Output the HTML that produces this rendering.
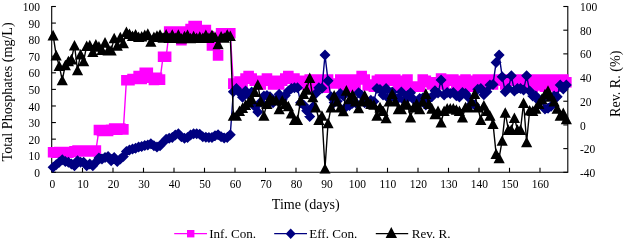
<!DOCTYPE html>
<html><head><meta charset="utf-8"><title>Chart</title>
<style>html,body{margin:0;padding:0;background:#fff;}body{width:625px;height:242px;overflow:hidden;position:relative;font-family:"Liberation Serif",serif;}</style>
</head><body>
<svg width="625" height="242" viewBox="0 0 625 242" style="position:absolute;left:0;top:0;filter:blur(0.4px)">
<g stroke="#000" stroke-width="1.1" fill="none">
<path d="M51.7,6.0 V172.3 H567.8 V6.0"/>
<path d="M51.7,172.30 h4.2"/>
<path d="M51.7,155.72 h4.2"/>
<path d="M51.7,139.14 h4.2"/>
<path d="M51.7,122.56 h4.2"/>
<path d="M51.7,105.98 h4.2"/>
<path d="M51.7,89.40 h4.2"/>
<path d="M51.7,72.82 h4.2"/>
<path d="M51.7,56.24 h4.2"/>
<path d="M51.7,39.66 h4.2"/>
<path d="M51.7,23.08 h4.2"/>
<path d="M51.7,6.50 h4.2"/>
<path d="M567.8,172.30 h-4.5"/>
<path d="M567.8,148.61 h-4.5"/>
<path d="M567.8,124.93 h-4.5"/>
<path d="M567.8,101.24 h-4.5"/>
<path d="M567.8,77.56 h-4.5"/>
<path d="M567.8,53.87 h-4.5"/>
<path d="M567.8,30.19 h-4.5"/>
<path d="M567.8,6.50 h-4.5"/>
<path d="M52.00,172.3 v-4.5"/>
<path d="M82.50,172.3 v-4.5"/>
<path d="M113.00,172.3 v-4.5"/>
<path d="M143.50,172.3 v-4.5"/>
<path d="M174.00,172.3 v-4.5"/>
<path d="M204.50,172.3 v-4.5"/>
<path d="M235.00,172.3 v-4.5"/>
<path d="M265.50,172.3 v-4.5"/>
<path d="M296.00,172.3 v-4.5"/>
<path d="M326.50,172.3 v-4.5"/>
<path d="M357.00,172.3 v-4.5"/>
<path d="M387.50,172.3 v-4.5"/>
<path d="M418.00,172.3 v-4.5"/>
<path d="M448.50,172.3 v-4.5"/>
<path d="M479.00,172.3 v-4.5"/>
<path d="M509.50,172.3 v-4.5"/>
<path d="M540.00,172.3 v-4.5"/>
</g>
<defs><clipPath id="pc"><rect x="46" y="0" width="530" height="173.8"/></clipPath></defs><g clip-path="url(#pc)">
<polyline points="53.10,152.24 56.16,152.74 59.21,152.07 62.27,152.74 65.32,152.07 68.38,152.74 71.43,152.07 74.48,151.41 77.54,150.58 80.59,151.41 83.65,150.58 86.71,151.41 89.76,150.58 92.81,151.41 95.87,150.58 98.93,130.02 101.98,131.02 105.03,130.02 108.09,131.02 111.15,129.69 114.20,128.53 117.25,129.69 120.31,128.53 123.37,129.36 126.42,80.28 129.47,80.28 132.53,78.95 135.59,78.95 138.64,75.97 141.69,78.95 144.75,72.82 147.81,72.82 150.86,77.79 153.92,79.95 156.97,77.79 160.03,79.62 163.08,56.74 166.14,56.74 169.19,31.54 172.25,31.54 175.30,31.54 178.36,31.54 181.41,40.32 184.47,31.54 187.52,31.54 190.57,29.05 193.63,26.06 196.69,26.06 199.74,30.04 202.80,30.04 205.85,30.04 208.91,36.34 211.96,45.46 215.02,45.46 218.07,55.41 221.12,33.19 224.18,33.19 227.24,33.19 230.29,33.19 233.34,83.60 236.40,85.26 239.46,81.61 242.51,84.43 245.56,78.62 248.62,76.14 251.68,78.62 254.73,80.78 257.79,80.78 260.84,84.43 263.90,80.78 266.95,78.62 270.00,80.78 273.06,84.43 276.12,80.78 279.17,84.43 282.23,80.78 285.28,78.62 288.34,76.14 291.39,78.62 294.44,78.62 297.50,80.78 300.56,84.43 303.61,80.78 306.67,84.43 309.72,79.45 312.78,86.75 315.83,79.45 318.89,79.45 321.94,86.08 325.00,87.74 328.05,79.45 331.11,83.43 334.16,83.43 337.22,83.43 340.27,79.45 343.33,85.42 346.38,79.45 349.44,86.75 352.49,79.45 355.55,85.42 358.60,79.45 361.66,75.97 364.71,79.45 367.77,85.42 370.82,84.43 373.88,86.75 376.93,80.78 379.99,79.45 383.04,84.43 386.10,79.45 389.15,80.78 392.21,79.45 395.26,79.45 398.32,86.75 401.37,80.78 404.43,85.42 407.48,79.45 410.54,86.58 413.59,86.58 416.65,86.58 419.70,86.58 422.76,79.45 425.81,80.78 428.87,82.27 431.92,84.43 434.98,82.27 438.03,82.27 441.09,78.46 444.14,84.43 447.20,79.45 450.25,80.78 453.31,79.45 456.36,84.43 459.42,86.75 462.47,80.78 465.53,79.45 468.58,84.43 471.64,86.75 474.69,80.78 477.75,79.45 480.80,84.43 483.86,79.45 486.91,80.78 489.97,79.45 493.02,84.43 496.08,79.45 499.13,80.78 502.19,79.45 505.24,84.43 508.30,79.45 511.35,80.78 514.40,79.45 517.46,79.45 520.51,86.75 523.57,79.45 526.62,85.42 529.68,79.45 532.74,86.75 535.79,79.45 538.85,85.42 541.90,79.45 544.96,86.75 548.01,79.45 551.07,85.42 554.12,79.45 557.18,86.75 560.23,79.45 563.28,79.45 566.34,82.27" fill="none" stroke="#ff00ff" stroke-width="1.4"/>
<path d="M47.80,146.94h10.6v10.6h-10.6zM50.86,147.44h10.6v10.6h-10.6zM53.91,146.77h10.6v10.6h-10.6zM56.97,147.44h10.6v10.6h-10.6zM60.02,146.77h10.6v10.6h-10.6zM63.08,147.44h10.6v10.6h-10.6zM66.13,146.77h10.6v10.6h-10.6zM69.19,146.11h10.6v10.6h-10.6zM72.24,145.28h10.6v10.6h-10.6zM75.30,146.11h10.6v10.6h-10.6zM78.35,145.28h10.6v10.6h-10.6zM81.41,146.11h10.6v10.6h-10.6zM84.46,145.28h10.6v10.6h-10.6zM87.52,146.11h10.6v10.6h-10.6zM90.57,145.28h10.6v10.6h-10.6zM93.63,124.72h10.6v10.6h-10.6zM96.68,125.72h10.6v10.6h-10.6zM99.73,124.72h10.6v10.6h-10.6zM102.79,125.72h10.6v10.6h-10.6zM105.85,124.39h10.6v10.6h-10.6zM108.90,123.23h10.6v10.6h-10.6zM111.95,124.39h10.6v10.6h-10.6zM115.01,123.23h10.6v10.6h-10.6zM118.07,124.06h10.6v10.6h-10.6zM121.12,74.98h10.6v10.6h-10.6zM124.17,74.98h10.6v10.6h-10.6zM127.23,73.65h10.6v10.6h-10.6zM130.28,73.65h10.6v10.6h-10.6zM133.34,70.67h10.6v10.6h-10.6zM136.39,73.65h10.6v10.6h-10.6zM139.45,67.52h10.6v10.6h-10.6zM142.50,67.52h10.6v10.6h-10.6zM145.56,72.49h10.6v10.6h-10.6zM148.62,74.65h10.6v10.6h-10.6zM151.67,72.49h10.6v10.6h-10.6zM154.72,74.32h10.6v10.6h-10.6zM157.78,51.44h10.6v10.6h-10.6zM160.84,51.44h10.6v10.6h-10.6zM163.89,26.24h10.6v10.6h-10.6zM166.94,26.24h10.6v10.6h-10.6zM170.00,26.24h10.6v10.6h-10.6zM173.06,26.24h10.6v10.6h-10.6zM176.11,35.02h10.6v10.6h-10.6zM179.16,26.24h10.6v10.6h-10.6zM182.22,26.24h10.6v10.6h-10.6zM185.27,23.75h10.6v10.6h-10.6zM188.33,20.76h10.6v10.6h-10.6zM191.38,20.76h10.6v10.6h-10.6zM194.44,24.74h10.6v10.6h-10.6zM197.50,24.74h10.6v10.6h-10.6zM200.55,24.74h10.6v10.6h-10.6zM203.60,31.04h10.6v10.6h-10.6zM206.66,40.16h10.6v10.6h-10.6zM209.72,40.16h10.6v10.6h-10.6zM212.77,50.11h10.6v10.6h-10.6zM215.82,27.89h10.6v10.6h-10.6zM218.88,27.89h10.6v10.6h-10.6zM221.94,27.89h10.6v10.6h-10.6zM224.99,27.89h10.6v10.6h-10.6zM228.04,78.30h10.6v10.6h-10.6zM231.10,79.96h10.6v10.6h-10.6zM234.16,76.31h10.6v10.6h-10.6zM237.21,79.13h10.6v10.6h-10.6zM240.26,73.32h10.6v10.6h-10.6zM243.32,70.84h10.6v10.6h-10.6zM246.38,73.32h10.6v10.6h-10.6zM249.43,75.48h10.6v10.6h-10.6zM252.49,75.48h10.6v10.6h-10.6zM255.54,79.13h10.6v10.6h-10.6zM258.60,75.48h10.6v10.6h-10.6zM261.65,73.32h10.6v10.6h-10.6zM264.70,75.48h10.6v10.6h-10.6zM267.76,79.13h10.6v10.6h-10.6zM270.81,75.48h10.6v10.6h-10.6zM273.87,79.13h10.6v10.6h-10.6zM276.93,75.48h10.6v10.6h-10.6zM279.98,73.32h10.6v10.6h-10.6zM283.04,70.84h10.6v10.6h-10.6zM286.09,73.32h10.6v10.6h-10.6zM289.14,73.32h10.6v10.6h-10.6zM292.20,75.48h10.6v10.6h-10.6zM295.25,79.13h10.6v10.6h-10.6zM298.31,75.48h10.6v10.6h-10.6zM301.37,79.13h10.6v10.6h-10.6zM304.42,74.15h10.6v10.6h-10.6zM307.48,81.45h10.6v10.6h-10.6zM310.53,74.15h10.6v10.6h-10.6zM313.59,74.15h10.6v10.6h-10.6zM316.64,80.78h10.6v10.6h-10.6zM319.70,82.44h10.6v10.6h-10.6zM322.75,74.15h10.6v10.6h-10.6zM325.81,78.13h10.6v10.6h-10.6zM328.86,78.13h10.6v10.6h-10.6zM331.92,78.13h10.6v10.6h-10.6zM334.97,74.15h10.6v10.6h-10.6zM338.03,80.12h10.6v10.6h-10.6zM341.08,74.15h10.6v10.6h-10.6zM344.14,81.45h10.6v10.6h-10.6zM347.19,74.15h10.6v10.6h-10.6zM350.25,80.12h10.6v10.6h-10.6zM353.30,74.15h10.6v10.6h-10.6zM356.36,70.67h10.6v10.6h-10.6zM359.41,74.15h10.6v10.6h-10.6zM362.47,80.12h10.6v10.6h-10.6zM365.52,79.13h10.6v10.6h-10.6zM368.58,81.45h10.6v10.6h-10.6zM371.63,75.48h10.6v10.6h-10.6zM374.69,74.15h10.6v10.6h-10.6zM377.74,79.13h10.6v10.6h-10.6zM380.80,74.15h10.6v10.6h-10.6zM383.85,75.48h10.6v10.6h-10.6zM386.91,74.15h10.6v10.6h-10.6zM389.96,74.15h10.6v10.6h-10.6zM393.02,81.45h10.6v10.6h-10.6zM396.07,75.48h10.6v10.6h-10.6zM399.13,80.12h10.6v10.6h-10.6zM402.18,74.15h10.6v10.6h-10.6zM405.24,81.28h10.6v10.6h-10.6zM408.29,81.28h10.6v10.6h-10.6zM411.35,81.28h10.6v10.6h-10.6zM414.40,81.28h10.6v10.6h-10.6zM417.46,74.15h10.6v10.6h-10.6zM420.51,75.48h10.6v10.6h-10.6zM423.57,76.97h10.6v10.6h-10.6zM426.62,79.13h10.6v10.6h-10.6zM429.68,76.97h10.6v10.6h-10.6zM432.73,76.97h10.6v10.6h-10.6zM435.79,73.16h10.6v10.6h-10.6zM438.84,79.13h10.6v10.6h-10.6zM441.90,74.15h10.6v10.6h-10.6zM444.95,75.48h10.6v10.6h-10.6zM448.01,74.15h10.6v10.6h-10.6zM451.06,79.13h10.6v10.6h-10.6zM454.12,81.45h10.6v10.6h-10.6zM457.17,75.48h10.6v10.6h-10.6zM460.23,74.15h10.6v10.6h-10.6zM463.28,79.13h10.6v10.6h-10.6zM466.34,81.45h10.6v10.6h-10.6zM469.39,75.48h10.6v10.6h-10.6zM472.45,74.15h10.6v10.6h-10.6zM475.50,79.13h10.6v10.6h-10.6zM478.56,74.15h10.6v10.6h-10.6zM481.61,75.48h10.6v10.6h-10.6zM484.67,74.15h10.6v10.6h-10.6zM487.72,79.13h10.6v10.6h-10.6zM490.78,74.15h10.6v10.6h-10.6zM493.83,75.48h10.6v10.6h-10.6zM496.89,74.15h10.6v10.6h-10.6zM499.94,79.13h10.6v10.6h-10.6zM503.00,74.15h10.6v10.6h-10.6zM506.05,75.48h10.6v10.6h-10.6zM509.10,74.15h10.6v10.6h-10.6zM512.16,74.15h10.6v10.6h-10.6zM515.22,81.45h10.6v10.6h-10.6zM518.27,74.15h10.6v10.6h-10.6zM521.33,80.12h10.6v10.6h-10.6zM524.38,74.15h10.6v10.6h-10.6zM527.44,81.45h10.6v10.6h-10.6zM530.49,74.15h10.6v10.6h-10.6zM533.55,80.12h10.6v10.6h-10.6zM536.60,74.15h10.6v10.6h-10.6zM539.66,81.45h10.6v10.6h-10.6zM542.71,74.15h10.6v10.6h-10.6zM545.77,80.12h10.6v10.6h-10.6zM548.82,74.15h10.6v10.6h-10.6zM551.88,81.45h10.6v10.6h-10.6zM554.93,74.15h10.6v10.6h-10.6zM557.99,74.15h10.6v10.6h-10.6zM561.04,76.97h10.6v10.6h-10.6z" fill="#ff00ff"/>
<polyline points="53.10,167.33 56.16,164.84 59.21,162.35 62.27,159.70 65.32,161.52 68.38,162.35 71.43,164.01 74.48,165.67 77.54,160.69 80.59,162.35 83.65,162.35 86.71,165.67 89.76,164.01 92.81,165.67 95.87,162.35 98.93,158.04 101.98,159.04 105.03,157.38 108.09,156.38 111.15,160.69 114.20,157.38 117.25,161.52 120.31,159.04 123.37,156.38 126.42,151.41 129.47,149.92 132.53,149.09 135.59,148.26 138.64,147.10 141.69,146.60 144.75,145.44 147.81,144.94 150.86,143.78 153.92,145.77 156.97,147.10 160.03,145.77 163.08,142.46 166.14,139.14 169.19,138.31 172.25,137.48 175.30,135.00 178.36,133.83 181.41,136.65 184.47,138.31 187.52,137.48 190.57,135.00 193.63,133.83 196.69,133.83 199.74,134.17 202.80,136.65 205.85,137.15 208.91,137.48 211.96,137.48 215.02,135.82 218.07,134.66 221.12,136.65 224.18,137.98 227.24,137.48 230.29,134.66 233.34,91.72 236.40,88.57 239.46,92.49 242.51,97.17 245.56,91.06 248.62,94.79 251.68,91.89 254.73,106.40 257.79,111.99 260.84,102.00 263.90,96.03 266.95,95.48 270.00,96.86 273.06,102.70 276.12,99.81 279.17,94.37 282.23,99.81 285.28,95.48 288.34,91.06 291.39,88.57 294.44,87.74 297.50,87.74 300.56,102.70 303.61,104.94 306.67,110.79 309.72,116.41 312.78,106.94 315.83,93.38 318.89,87.74 321.94,88.24 325.00,55.08 328.05,80.78 331.11,96.76 334.16,102.50 337.22,101.20 340.27,93.38 343.33,95.67 346.38,106.56 349.44,105.57 352.49,103.31 355.55,102.80 358.60,92.72 361.66,95.24 364.71,102.66 367.77,102.80 370.82,100.24 373.88,101.46 376.93,88.57 379.99,89.40 383.04,94.97 386.10,88.57 389.15,99.08 392.21,91.89 395.26,98.02 398.32,98.30 401.37,91.89 404.43,101.06 407.48,95.42 410.54,92.72 413.59,99.44 416.65,102.01 419.70,98.52 422.76,98.02 425.81,104.94 428.87,98.48 431.92,96.73 434.98,90.64 438.03,93.07 441.09,79.95 444.14,94.97 447.20,92.45 450.25,93.59 453.31,92.45 456.36,95.85 459.42,97.01 462.47,92.55 465.53,93.47 468.58,97.61 471.64,103.86 474.69,104.94 477.75,89.23 480.80,88.57 483.86,94.86 486.91,91.76 489.97,84.92 493.02,84.43 496.08,62.54 499.13,55.08 502.19,76.63 505.24,91.72 508.30,88.57 511.35,75.80 514.40,90.89 517.46,88.57 520.51,88.57 523.57,90.06 526.62,75.80 529.68,90.97 532.74,96.03 535.79,96.03 538.85,101.06 541.90,99.88 544.96,108.99 548.01,108.30 551.07,106.27 554.12,96.03 557.18,96.70 560.23,84.92 563.28,88.92 566.34,84.92" fill="none" stroke="#000080" stroke-width="1.4"/>
<path d="M53.10,161.83l5.5,5.5l-5.5,5.5l-5.5,-5.5zM56.16,159.34l5.5,5.5l-5.5,5.5l-5.5,-5.5zM59.21,156.85l5.5,5.5l-5.5,5.5l-5.5,-5.5zM62.27,154.20l5.5,5.5l-5.5,5.5l-5.5,-5.5zM65.32,156.02l5.5,5.5l-5.5,5.5l-5.5,-5.5zM68.38,156.85l5.5,5.5l-5.5,5.5l-5.5,-5.5zM71.43,158.51l5.5,5.5l-5.5,5.5l-5.5,-5.5zM74.48,160.17l5.5,5.5l-5.5,5.5l-5.5,-5.5zM77.54,155.19l5.5,5.5l-5.5,5.5l-5.5,-5.5zM80.59,156.85l5.5,5.5l-5.5,5.5l-5.5,-5.5zM83.65,156.85l5.5,5.5l-5.5,5.5l-5.5,-5.5zM86.71,160.17l5.5,5.5l-5.5,5.5l-5.5,-5.5zM89.76,158.51l5.5,5.5l-5.5,5.5l-5.5,-5.5zM92.81,160.17l5.5,5.5l-5.5,5.5l-5.5,-5.5zM95.87,156.85l5.5,5.5l-5.5,5.5l-5.5,-5.5zM98.93,152.54l5.5,5.5l-5.5,5.5l-5.5,-5.5zM101.98,153.54l5.5,5.5l-5.5,5.5l-5.5,-5.5zM105.03,151.88l5.5,5.5l-5.5,5.5l-5.5,-5.5zM108.09,150.88l5.5,5.5l-5.5,5.5l-5.5,-5.5zM111.15,155.19l5.5,5.5l-5.5,5.5l-5.5,-5.5zM114.20,151.88l5.5,5.5l-5.5,5.5l-5.5,-5.5zM117.25,156.02l5.5,5.5l-5.5,5.5l-5.5,-5.5zM120.31,153.54l5.5,5.5l-5.5,5.5l-5.5,-5.5zM123.37,150.88l5.5,5.5l-5.5,5.5l-5.5,-5.5zM126.42,145.91l5.5,5.5l-5.5,5.5l-5.5,-5.5zM129.47,144.42l5.5,5.5l-5.5,5.5l-5.5,-5.5zM132.53,143.59l5.5,5.5l-5.5,5.5l-5.5,-5.5zM135.59,142.76l5.5,5.5l-5.5,5.5l-5.5,-5.5zM138.64,141.60l5.5,5.5l-5.5,5.5l-5.5,-5.5zM141.69,141.10l5.5,5.5l-5.5,5.5l-5.5,-5.5zM144.75,139.94l5.5,5.5l-5.5,5.5l-5.5,-5.5zM147.81,139.44l5.5,5.5l-5.5,5.5l-5.5,-5.5zM150.86,138.28l5.5,5.5l-5.5,5.5l-5.5,-5.5zM153.92,140.27l5.5,5.5l-5.5,5.5l-5.5,-5.5zM156.97,141.60l5.5,5.5l-5.5,5.5l-5.5,-5.5zM160.03,140.27l5.5,5.5l-5.5,5.5l-5.5,-5.5zM163.08,136.96l5.5,5.5l-5.5,5.5l-5.5,-5.5zM166.14,133.64l5.5,5.5l-5.5,5.5l-5.5,-5.5zM169.19,132.81l5.5,5.5l-5.5,5.5l-5.5,-5.5zM172.25,131.98l5.5,5.5l-5.5,5.5l-5.5,-5.5zM175.30,129.50l5.5,5.5l-5.5,5.5l-5.5,-5.5zM178.36,128.33l5.5,5.5l-5.5,5.5l-5.5,-5.5zM181.41,131.15l5.5,5.5l-5.5,5.5l-5.5,-5.5zM184.47,132.81l5.5,5.5l-5.5,5.5l-5.5,-5.5zM187.52,131.98l5.5,5.5l-5.5,5.5l-5.5,-5.5zM190.57,129.50l5.5,5.5l-5.5,5.5l-5.5,-5.5zM193.63,128.33l5.5,5.5l-5.5,5.5l-5.5,-5.5zM196.69,128.33l5.5,5.5l-5.5,5.5l-5.5,-5.5zM199.74,128.67l5.5,5.5l-5.5,5.5l-5.5,-5.5zM202.80,131.15l5.5,5.5l-5.5,5.5l-5.5,-5.5zM205.85,131.65l5.5,5.5l-5.5,5.5l-5.5,-5.5zM208.91,131.98l5.5,5.5l-5.5,5.5l-5.5,-5.5zM211.96,131.98l5.5,5.5l-5.5,5.5l-5.5,-5.5zM215.02,130.32l5.5,5.5l-5.5,5.5l-5.5,-5.5zM218.07,129.16l5.5,5.5l-5.5,5.5l-5.5,-5.5zM221.12,131.15l5.5,5.5l-5.5,5.5l-5.5,-5.5zM224.18,132.48l5.5,5.5l-5.5,5.5l-5.5,-5.5zM227.24,131.98l5.5,5.5l-5.5,5.5l-5.5,-5.5zM230.29,129.16l5.5,5.5l-5.5,5.5l-5.5,-5.5zM233.34,86.22l5.5,5.5l-5.5,5.5l-5.5,-5.5zM236.40,83.07l5.5,5.5l-5.5,5.5l-5.5,-5.5zM239.46,86.99l5.5,5.5l-5.5,5.5l-5.5,-5.5zM242.51,91.67l5.5,5.5l-5.5,5.5l-5.5,-5.5zM245.56,85.56l5.5,5.5l-5.5,5.5l-5.5,-5.5zM248.62,89.29l5.5,5.5l-5.5,5.5l-5.5,-5.5zM251.68,86.39l5.5,5.5l-5.5,5.5l-5.5,-5.5zM254.73,100.90l5.5,5.5l-5.5,5.5l-5.5,-5.5zM257.79,106.49l5.5,5.5l-5.5,5.5l-5.5,-5.5zM260.84,96.50l5.5,5.5l-5.5,5.5l-5.5,-5.5zM263.90,90.53l5.5,5.5l-5.5,5.5l-5.5,-5.5zM266.95,89.98l5.5,5.5l-5.5,5.5l-5.5,-5.5zM270.00,91.36l5.5,5.5l-5.5,5.5l-5.5,-5.5zM273.06,97.20l5.5,5.5l-5.5,5.5l-5.5,-5.5zM276.12,94.31l5.5,5.5l-5.5,5.5l-5.5,-5.5zM279.17,88.87l5.5,5.5l-5.5,5.5l-5.5,-5.5zM282.23,94.31l5.5,5.5l-5.5,5.5l-5.5,-5.5zM285.28,89.98l5.5,5.5l-5.5,5.5l-5.5,-5.5zM288.34,85.56l5.5,5.5l-5.5,5.5l-5.5,-5.5zM291.39,83.07l5.5,5.5l-5.5,5.5l-5.5,-5.5zM294.44,82.24l5.5,5.5l-5.5,5.5l-5.5,-5.5zM297.50,82.24l5.5,5.5l-5.5,5.5l-5.5,-5.5zM300.56,97.20l5.5,5.5l-5.5,5.5l-5.5,-5.5zM303.61,99.44l5.5,5.5l-5.5,5.5l-5.5,-5.5zM306.67,105.29l5.5,5.5l-5.5,5.5l-5.5,-5.5zM309.72,110.91l5.5,5.5l-5.5,5.5l-5.5,-5.5zM312.78,101.44l5.5,5.5l-5.5,5.5l-5.5,-5.5zM315.83,87.88l5.5,5.5l-5.5,5.5l-5.5,-5.5zM318.89,82.24l5.5,5.5l-5.5,5.5l-5.5,-5.5zM321.94,82.74l5.5,5.5l-5.5,5.5l-5.5,-5.5zM325.00,49.58l5.5,5.5l-5.5,5.5l-5.5,-5.5zM328.05,75.28l5.5,5.5l-5.5,5.5l-5.5,-5.5zM331.11,91.26l5.5,5.5l-5.5,5.5l-5.5,-5.5zM334.16,97.00l5.5,5.5l-5.5,5.5l-5.5,-5.5zM337.22,95.70l5.5,5.5l-5.5,5.5l-5.5,-5.5zM340.27,87.88l5.5,5.5l-5.5,5.5l-5.5,-5.5zM343.33,90.17l5.5,5.5l-5.5,5.5l-5.5,-5.5zM346.38,101.06l5.5,5.5l-5.5,5.5l-5.5,-5.5zM349.44,100.07l5.5,5.5l-5.5,5.5l-5.5,-5.5zM352.49,97.81l5.5,5.5l-5.5,5.5l-5.5,-5.5zM355.55,97.30l5.5,5.5l-5.5,5.5l-5.5,-5.5zM358.60,87.22l5.5,5.5l-5.5,5.5l-5.5,-5.5zM361.66,89.74l5.5,5.5l-5.5,5.5l-5.5,-5.5zM364.71,97.16l5.5,5.5l-5.5,5.5l-5.5,-5.5zM367.77,97.30l5.5,5.5l-5.5,5.5l-5.5,-5.5zM370.82,94.74l5.5,5.5l-5.5,5.5l-5.5,-5.5zM373.88,95.96l5.5,5.5l-5.5,5.5l-5.5,-5.5zM376.93,83.07l5.5,5.5l-5.5,5.5l-5.5,-5.5zM379.99,83.90l5.5,5.5l-5.5,5.5l-5.5,-5.5zM383.04,89.47l5.5,5.5l-5.5,5.5l-5.5,-5.5zM386.10,83.07l5.5,5.5l-5.5,5.5l-5.5,-5.5zM389.15,93.58l5.5,5.5l-5.5,5.5l-5.5,-5.5zM392.21,86.39l5.5,5.5l-5.5,5.5l-5.5,-5.5zM395.26,92.52l5.5,5.5l-5.5,5.5l-5.5,-5.5zM398.32,92.80l5.5,5.5l-5.5,5.5l-5.5,-5.5zM401.37,86.39l5.5,5.5l-5.5,5.5l-5.5,-5.5zM404.43,95.56l5.5,5.5l-5.5,5.5l-5.5,-5.5zM407.48,89.92l5.5,5.5l-5.5,5.5l-5.5,-5.5zM410.54,87.22l5.5,5.5l-5.5,5.5l-5.5,-5.5zM413.59,93.94l5.5,5.5l-5.5,5.5l-5.5,-5.5zM416.65,96.51l5.5,5.5l-5.5,5.5l-5.5,-5.5zM419.70,93.02l5.5,5.5l-5.5,5.5l-5.5,-5.5zM422.76,92.52l5.5,5.5l-5.5,5.5l-5.5,-5.5zM425.81,99.44l5.5,5.5l-5.5,5.5l-5.5,-5.5zM428.87,92.98l5.5,5.5l-5.5,5.5l-5.5,-5.5zM431.92,91.23l5.5,5.5l-5.5,5.5l-5.5,-5.5zM434.98,85.14l5.5,5.5l-5.5,5.5l-5.5,-5.5zM438.03,87.57l5.5,5.5l-5.5,5.5l-5.5,-5.5zM441.09,74.45l5.5,5.5l-5.5,5.5l-5.5,-5.5zM444.14,89.47l5.5,5.5l-5.5,5.5l-5.5,-5.5zM447.20,86.95l5.5,5.5l-5.5,5.5l-5.5,-5.5zM450.25,88.09l5.5,5.5l-5.5,5.5l-5.5,-5.5zM453.31,86.95l5.5,5.5l-5.5,5.5l-5.5,-5.5zM456.36,90.35l5.5,5.5l-5.5,5.5l-5.5,-5.5zM459.42,91.51l5.5,5.5l-5.5,5.5l-5.5,-5.5zM462.47,87.05l5.5,5.5l-5.5,5.5l-5.5,-5.5zM465.53,87.97l5.5,5.5l-5.5,5.5l-5.5,-5.5zM468.58,92.11l5.5,5.5l-5.5,5.5l-5.5,-5.5zM471.64,98.36l5.5,5.5l-5.5,5.5l-5.5,-5.5zM474.69,99.44l5.5,5.5l-5.5,5.5l-5.5,-5.5zM477.75,83.73l5.5,5.5l-5.5,5.5l-5.5,-5.5zM480.80,83.07l5.5,5.5l-5.5,5.5l-5.5,-5.5zM483.86,89.36l5.5,5.5l-5.5,5.5l-5.5,-5.5zM486.91,86.26l5.5,5.5l-5.5,5.5l-5.5,-5.5zM489.97,79.42l5.5,5.5l-5.5,5.5l-5.5,-5.5zM493.02,78.93l5.5,5.5l-5.5,5.5l-5.5,-5.5zM496.08,57.04l5.5,5.5l-5.5,5.5l-5.5,-5.5zM499.13,49.58l5.5,5.5l-5.5,5.5l-5.5,-5.5zM502.19,71.13l5.5,5.5l-5.5,5.5l-5.5,-5.5zM505.24,86.22l5.5,5.5l-5.5,5.5l-5.5,-5.5zM508.30,83.07l5.5,5.5l-5.5,5.5l-5.5,-5.5zM511.35,70.30l5.5,5.5l-5.5,5.5l-5.5,-5.5zM514.40,85.39l5.5,5.5l-5.5,5.5l-5.5,-5.5zM517.46,83.07l5.5,5.5l-5.5,5.5l-5.5,-5.5zM520.51,83.07l5.5,5.5l-5.5,5.5l-5.5,-5.5zM523.57,84.56l5.5,5.5l-5.5,5.5l-5.5,-5.5zM526.62,70.30l5.5,5.5l-5.5,5.5l-5.5,-5.5zM529.68,85.47l5.5,5.5l-5.5,5.5l-5.5,-5.5zM532.74,90.53l5.5,5.5l-5.5,5.5l-5.5,-5.5zM535.79,90.53l5.5,5.5l-5.5,5.5l-5.5,-5.5zM538.85,95.56l5.5,5.5l-5.5,5.5l-5.5,-5.5zM541.90,94.38l5.5,5.5l-5.5,5.5l-5.5,-5.5zM544.96,103.49l5.5,5.5l-5.5,5.5l-5.5,-5.5zM548.01,102.80l5.5,5.5l-5.5,5.5l-5.5,-5.5zM551.07,100.77l5.5,5.5l-5.5,5.5l-5.5,-5.5zM554.12,90.53l5.5,5.5l-5.5,5.5l-5.5,-5.5zM557.18,91.20l5.5,5.5l-5.5,5.5l-5.5,-5.5zM560.23,79.42l5.5,5.5l-5.5,5.5l-5.5,-5.5zM563.28,83.42l5.5,5.5l-5.5,5.5l-5.5,-5.5zM566.34,79.42l5.5,5.5l-5.5,5.5l-5.5,-5.5z" fill="#000080"/>
<polyline points="53.10,35.16 56.16,55.17 59.21,65.71 62.27,80.04 65.32,65.00 68.38,60.98 71.43,59.08 74.48,45.23 77.54,69.98 80.59,54.23 83.65,60.98 86.71,45.70 89.76,45.11 92.81,51.74 95.87,44.40 98.93,46.41 101.98,49.73 105.03,42.38 108.09,50.32 111.15,50.32 114.20,38.00 117.25,45.34 120.31,37.17 123.37,42.98 126.42,31.73 129.47,33.74 132.53,35.75 135.59,34.21 138.64,36.70 141.69,36.23 144.75,34.92 147.81,33.62 150.86,41.44 153.92,36.70 156.97,35.52 160.03,34.57 163.08,37.53 166.14,34.33 169.19,37.77 172.25,34.57 175.30,37.77 178.36,34.57 181.41,38.24 184.47,36.11 187.52,34.69 190.57,38.00 193.63,36.11 196.69,37.77 199.74,36.58 202.80,37.77 205.85,34.69 208.91,37.77 211.96,34.69 215.02,36.70 218.07,43.92 221.12,36.34 224.18,37.53 227.24,34.57 230.29,35.75 233.34,115.45 236.40,115.45 239.46,110.72 242.51,107.76 245.56,104.80 248.62,101.95 251.68,98.87 254.73,91.77 257.79,84.54 260.84,101.24 263.90,115.45 266.95,103.61 270.00,97.81 273.06,100.30 276.12,100.30 279.17,108.94 282.23,100.30 285.28,103.61 288.34,105.98 291.39,113.09 294.44,119.72 297.50,119.72 300.56,100.30 303.61,93.66 306.67,89.40 309.72,77.79 312.78,96.98 315.83,107.16 318.89,119.72 321.94,115.45 325.00,168.51 328.05,123.03 331.11,107.16 334.16,95.32 337.22,101.24 340.27,107.16 343.33,110.95 346.38,90.35 349.44,98.87 352.49,94.49 355.55,101.24 358.60,107.99 361.66,101.24 364.71,95.32 367.77,101.24 370.82,103.61 373.88,104.56 376.93,115.45 379.99,107.16 383.04,110.72 386.10,117.94 389.15,101.24 392.21,93.66 395.26,101.24 398.32,108.94 401.37,108.94 404.43,103.61 407.48,104.56 410.54,117.23 413.59,107.16 416.65,103.61 419.70,108.94 422.76,101.24 425.81,93.66 428.87,103.61 431.92,108.35 434.98,113.91 438.03,110.72 441.09,122.20 444.14,110.72 447.20,108.35 450.25,108.35 453.31,108.35 456.36,109.53 459.42,110.72 462.47,117.23 465.53,107.05 468.58,107.16 471.64,101.24 474.69,93.66 477.75,107.16 480.80,119.72 483.86,105.27 486.91,110.72 489.97,115.45 493.02,123.74 496.08,153.59 499.13,157.85 502.19,140.44 505.24,112.49 508.30,129.67 511.35,129.67 514.40,117.82 517.46,129.67 520.51,129.67 523.57,102.78 526.62,141.98 529.68,110.24 532.74,110.72 535.79,108.35 538.85,103.61 541.90,98.87 544.96,94.14 548.01,90.58 551.07,96.51 554.12,101.24 557.18,108.35 560.23,115.34 563.28,112.85 566.34,119.01" fill="none" stroke="#000" stroke-width="1.4"/>
<path d="M53.10,29.86l5.6,10.6h-11.2zM56.16,49.87l5.6,10.6h-11.2zM59.21,60.41l5.6,10.6h-11.2zM62.27,74.74l5.6,10.6h-11.2zM65.32,59.70l5.6,10.6h-11.2zM68.38,55.68l5.6,10.6h-11.2zM71.43,53.78l5.6,10.6h-11.2zM74.48,39.93l5.6,10.6h-11.2zM77.54,64.68l5.6,10.6h-11.2zM80.59,48.93l5.6,10.6h-11.2zM83.65,55.68l5.6,10.6h-11.2zM86.71,40.40l5.6,10.6h-11.2zM89.76,39.81l5.6,10.6h-11.2zM92.81,46.44l5.6,10.6h-11.2zM95.87,39.10l5.6,10.6h-11.2zM98.93,41.11l5.6,10.6h-11.2zM101.98,44.43l5.6,10.6h-11.2zM105.03,37.08l5.6,10.6h-11.2zM108.09,45.02l5.6,10.6h-11.2zM111.15,45.02l5.6,10.6h-11.2zM114.20,32.70l5.6,10.6h-11.2zM117.25,40.04l5.6,10.6h-11.2zM120.31,31.87l5.6,10.6h-11.2zM123.37,37.68l5.6,10.6h-11.2zM126.42,26.43l5.6,10.6h-11.2zM129.47,28.44l5.6,10.6h-11.2zM132.53,30.45l5.6,10.6h-11.2zM135.59,28.91l5.6,10.6h-11.2zM138.64,31.40l5.6,10.6h-11.2zM141.69,30.93l5.6,10.6h-11.2zM144.75,29.62l5.6,10.6h-11.2zM147.81,28.32l5.6,10.6h-11.2zM150.86,36.14l5.6,10.6h-11.2zM153.92,31.40l5.6,10.6h-11.2zM156.97,30.22l5.6,10.6h-11.2zM160.03,29.27l5.6,10.6h-11.2zM163.08,32.23l5.6,10.6h-11.2zM166.14,29.03l5.6,10.6h-11.2zM169.19,32.47l5.6,10.6h-11.2zM172.25,29.27l5.6,10.6h-11.2zM175.30,32.47l5.6,10.6h-11.2zM178.36,29.27l5.6,10.6h-11.2zM181.41,32.94l5.6,10.6h-11.2zM184.47,30.81l5.6,10.6h-11.2zM187.52,29.39l5.6,10.6h-11.2zM190.57,32.70l5.6,10.6h-11.2zM193.63,30.81l5.6,10.6h-11.2zM196.69,32.47l5.6,10.6h-11.2zM199.74,31.28l5.6,10.6h-11.2zM202.80,32.47l5.6,10.6h-11.2zM205.85,29.39l5.6,10.6h-11.2zM208.91,32.47l5.6,10.6h-11.2zM211.96,29.39l5.6,10.6h-11.2zM215.02,31.40l5.6,10.6h-11.2zM218.07,38.62l5.6,10.6h-11.2zM221.12,31.04l5.6,10.6h-11.2zM224.18,32.23l5.6,10.6h-11.2zM227.24,29.27l5.6,10.6h-11.2zM230.29,30.45l5.6,10.6h-11.2zM233.34,110.15l5.6,10.6h-11.2zM236.40,110.15l5.6,10.6h-11.2zM239.46,105.42l5.6,10.6h-11.2zM242.51,102.46l5.6,10.6h-11.2zM245.56,99.50l5.6,10.6h-11.2zM248.62,96.65l5.6,10.6h-11.2zM251.68,93.57l5.6,10.6h-11.2zM254.73,86.47l5.6,10.6h-11.2zM257.79,79.24l5.6,10.6h-11.2zM260.84,95.94l5.6,10.6h-11.2zM263.90,110.15l5.6,10.6h-11.2zM266.95,98.31l5.6,10.6h-11.2zM270.00,92.51l5.6,10.6h-11.2zM273.06,95.00l5.6,10.6h-11.2zM276.12,95.00l5.6,10.6h-11.2zM279.17,103.64l5.6,10.6h-11.2zM282.23,95.00l5.6,10.6h-11.2zM285.28,98.31l5.6,10.6h-11.2zM288.34,100.68l5.6,10.6h-11.2zM291.39,107.79l5.6,10.6h-11.2zM294.44,114.42l5.6,10.6h-11.2zM297.50,114.42l5.6,10.6h-11.2zM300.56,95.00l5.6,10.6h-11.2zM303.61,88.36l5.6,10.6h-11.2zM306.67,84.10l5.6,10.6h-11.2zM309.72,72.49l5.6,10.6h-11.2zM312.78,91.68l5.6,10.6h-11.2zM315.83,101.86l5.6,10.6h-11.2zM318.89,114.42l5.6,10.6h-11.2zM321.94,110.15l5.6,10.6h-11.2zM325.00,163.21l5.6,10.6h-11.2zM328.05,117.73l5.6,10.6h-11.2zM331.11,101.86l5.6,10.6h-11.2zM334.16,90.02l5.6,10.6h-11.2zM337.22,95.94l5.6,10.6h-11.2zM340.27,101.86l5.6,10.6h-11.2zM343.33,105.65l5.6,10.6h-11.2zM346.38,85.05l5.6,10.6h-11.2zM349.44,93.57l5.6,10.6h-11.2zM352.49,89.19l5.6,10.6h-11.2zM355.55,95.94l5.6,10.6h-11.2zM358.60,102.69l5.6,10.6h-11.2zM361.66,95.94l5.6,10.6h-11.2zM364.71,90.02l5.6,10.6h-11.2zM367.77,95.94l5.6,10.6h-11.2zM370.82,98.31l5.6,10.6h-11.2zM373.88,99.26l5.6,10.6h-11.2zM376.93,110.15l5.6,10.6h-11.2zM379.99,101.86l5.6,10.6h-11.2zM383.04,105.42l5.6,10.6h-11.2zM386.10,112.64l5.6,10.6h-11.2zM389.15,95.94l5.6,10.6h-11.2zM392.21,88.36l5.6,10.6h-11.2zM395.26,95.94l5.6,10.6h-11.2zM398.32,103.64l5.6,10.6h-11.2zM401.37,103.64l5.6,10.6h-11.2zM404.43,98.31l5.6,10.6h-11.2zM407.48,99.26l5.6,10.6h-11.2zM410.54,111.93l5.6,10.6h-11.2zM413.59,101.86l5.6,10.6h-11.2zM416.65,98.31l5.6,10.6h-11.2zM419.70,103.64l5.6,10.6h-11.2zM422.76,95.94l5.6,10.6h-11.2zM425.81,88.36l5.6,10.6h-11.2zM428.87,98.31l5.6,10.6h-11.2zM431.92,103.05l5.6,10.6h-11.2zM434.98,108.61l5.6,10.6h-11.2zM438.03,105.42l5.6,10.6h-11.2zM441.09,116.90l5.6,10.6h-11.2zM444.14,105.42l5.6,10.6h-11.2zM447.20,103.05l5.6,10.6h-11.2zM450.25,103.05l5.6,10.6h-11.2zM453.31,103.05l5.6,10.6h-11.2zM456.36,104.23l5.6,10.6h-11.2zM459.42,105.42l5.6,10.6h-11.2zM462.47,111.93l5.6,10.6h-11.2zM465.53,101.75l5.6,10.6h-11.2zM468.58,101.86l5.6,10.6h-11.2zM471.64,95.94l5.6,10.6h-11.2zM474.69,88.36l5.6,10.6h-11.2zM477.75,101.86l5.6,10.6h-11.2zM480.80,114.42l5.6,10.6h-11.2zM483.86,99.97l5.6,10.6h-11.2zM486.91,105.42l5.6,10.6h-11.2zM489.97,110.15l5.6,10.6h-11.2zM493.02,118.44l5.6,10.6h-11.2zM496.08,148.29l5.6,10.6h-11.2zM499.13,152.55l5.6,10.6h-11.2zM502.19,135.14l5.6,10.6h-11.2zM505.24,107.19l5.6,10.6h-11.2zM508.30,124.37l5.6,10.6h-11.2zM511.35,124.37l5.6,10.6h-11.2zM514.40,112.52l5.6,10.6h-11.2zM517.46,124.37l5.6,10.6h-11.2zM520.51,124.37l5.6,10.6h-11.2zM523.57,97.48l5.6,10.6h-11.2zM526.62,136.68l5.6,10.6h-11.2zM529.68,104.94l5.6,10.6h-11.2zM532.74,105.42l5.6,10.6h-11.2zM535.79,103.05l5.6,10.6h-11.2zM538.85,98.31l5.6,10.6h-11.2zM541.90,93.57l5.6,10.6h-11.2zM544.96,88.84l5.6,10.6h-11.2zM548.01,85.28l5.6,10.6h-11.2zM551.07,91.21l5.6,10.6h-11.2zM554.12,95.94l5.6,10.6h-11.2zM557.18,103.05l5.6,10.6h-11.2zM560.23,110.04l5.6,10.6h-11.2zM563.28,107.55l5.6,10.6h-11.2zM566.34,113.71l5.6,10.6h-11.2z" fill="#000"/>
</g>
<path d="M174.2,233.7H207" stroke="#ff00ff" stroke-width="1.3"/>
<rect x="187.0" y="230.0" width="7.4" height="7.4" fill="#ff00ff"/>
<path d="M274.2,233.7H307" stroke="#000080" stroke-width="1.3"/>
<path d="M290.7,228.39999999999998l5,5.3l-5,5.3l-5,-5.3z" fill="#000080"/>
<path d="M375.8,233.7H408.2" stroke="#000" stroke-width="1.3"/>
<path d="M391.3,227.0l5.7,11.1h-11.4z" fill="#000"/>
<g font-family="'Liberation Serif', serif" font-size="11.5" fill="#000">
<text transform="translate(40.0,176.90) scale(1,1.05)" text-anchor="end">0</text>
<text transform="translate(40.0,160.32) scale(1,1.05)" text-anchor="end">10</text>
<text transform="translate(40.0,143.74) scale(1,1.05)" text-anchor="end">20</text>
<text transform="translate(40.0,127.16) scale(1,1.05)" text-anchor="end">30</text>
<text transform="translate(40.0,110.58) scale(1,1.05)" text-anchor="end">40</text>
<text transform="translate(40.0,94.00) scale(1,1.05)" text-anchor="end">50</text>
<text transform="translate(40.0,77.42) scale(1,1.05)" text-anchor="end">60</text>
<text transform="translate(40.0,60.84) scale(1,1.05)" text-anchor="end">70</text>
<text transform="translate(40.0,44.26) scale(1,1.05)" text-anchor="end">80</text>
<text transform="translate(40.0,27.68) scale(1,1.05)" text-anchor="end">90</text>
<text transform="translate(40.0,11.10) scale(1,1.05)" text-anchor="end">100</text>
<text transform="translate(580,176.90) scale(1,1.05)">-40</text>
<text transform="translate(580,153.21) scale(1,1.05)">-20</text>
<text transform="translate(580,129.53) scale(1,1.05)">0</text>
<text transform="translate(580,105.84) scale(1,1.05)">20</text>
<text transform="translate(580,82.16) scale(1,1.05)">40</text>
<text transform="translate(580,58.47) scale(1,1.05)">60</text>
<text transform="translate(580,34.79) scale(1,1.05)">80</text>
<text transform="translate(580,11.10) scale(1,1.05)">100</text>
<text transform="translate(52.40,187.7) scale(1,1.02)" text-anchor="middle">0</text>
<text transform="translate(82.90,187.7) scale(1,1.02)" text-anchor="middle">10</text>
<text transform="translate(113.40,187.7) scale(1,1.02)" text-anchor="middle">20</text>
<text transform="translate(143.90,187.7) scale(1,1.02)" text-anchor="middle">30</text>
<text transform="translate(174.40,187.7) scale(1,1.02)" text-anchor="middle">40</text>
<text transform="translate(204.90,187.7) scale(1,1.02)" text-anchor="middle">50</text>
<text transform="translate(235.40,187.7) scale(1,1.02)" text-anchor="middle">60</text>
<text transform="translate(265.90,187.7) scale(1,1.02)" text-anchor="middle">70</text>
<text transform="translate(296.40,187.7) scale(1,1.02)" text-anchor="middle">80</text>
<text transform="translate(326.90,187.7) scale(1,1.02)" text-anchor="middle">90</text>
<text transform="translate(357.40,187.7) scale(1,1.02)" text-anchor="middle">100</text>
<text transform="translate(387.90,187.7) scale(1,1.02)" text-anchor="middle">110</text>
<text transform="translate(418.40,187.7) scale(1,1.02)" text-anchor="middle">120</text>
<text transform="translate(448.90,187.7) scale(1,1.02)" text-anchor="middle">130</text>
<text transform="translate(479.40,187.7) scale(1,1.02)" text-anchor="middle">140</text>
<text transform="translate(509.90,187.7) scale(1,1.02)" text-anchor="middle">150</text>
<text transform="translate(540.40,187.7) scale(1,1.02)" text-anchor="middle">160</text>
</g>
<g font-family="'Liberation Serif', serif" fill="#000">
<text x="305.8" y="208.5" font-size="14.1" text-anchor="middle">Time (days)</text>
<text x="209.2" y="238" font-size="13.1">Inf. Con.</text>
<text x="309.2" y="238" font-size="13.1">Eff. Con.</text>
<text x="411.8" y="238" font-size="13.1">Rev. R.</text>
<text transform="translate(12.4,91.9) rotate(-90)" font-size="14.1" text-anchor="middle">Total Phosphates (mg/L)</text>
<text transform="translate(619.6,83.8) rotate(-90)" font-size="14.1" text-anchor="middle">Rev. R. (%)</text>
</g>
</svg>
</body></html>
